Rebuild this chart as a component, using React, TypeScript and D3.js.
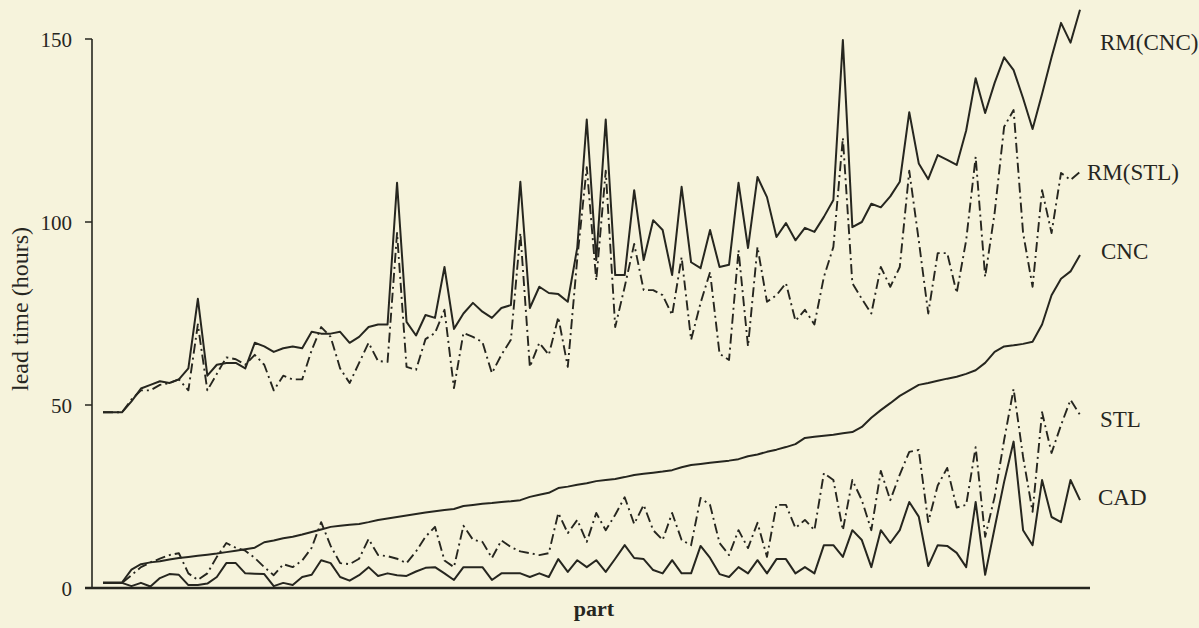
import React from "react";
import * as d3 from "d3";

const W = 1199;
const H = 628;

// part index 0..103
const rmCnc = [
  48, 48, 48, 51, 54.5, 55.5, 56.5, 56, 57, 60,
  79, 58, 61, 61.5, 61.5, 60, 67, 66, 64.5, 65.5,
  66, 65.5, 70, 69.5, 69.5, 70, 67, 68.6, 71.3, 72,
  72, 110.7, 72.7, 69, 74.6, 73.8, 87.7, 70.8, 75, 77.9,
  75.5, 73.8, 76.5, 77.3, 111, 76.5, 82.3, 80.6, 80.3, 78.2,
  93, 128, 89.6, 128, 85.5, 85.5, 108.7, 89.6, 100.5, 97.8,
  85.5, 109.6, 89, 87.4, 97.8, 87.7, 88.3, 110.7, 92.9, 112.3,
  106.8, 95.9, 99.7, 95, 98.4, 97.3, 101.4, 106, 149.7, 98.6,
  100, 105, 104, 107, 111, 130, 116, 111.7, 118.3, 117,
  115.6, 125, 139.3, 129.8, 138, 145, 141.5, 133.8, 125.4, 135,
  145, 154.4, 149, 158,
];

const rmStl = [
  48, 48, 48, 51.5, 54, 54, 55.5, 56, 57, 54,
  72, 54, 58.5, 63, 62.5, 61, 63.7, 61, 54, 58,
  57, 57, 65, 71.3, 68.6, 60, 56, 61.5, 67, 62,
  61.8, 97, 60.4, 59.6, 68, 69.7, 76, 54.6, 69.7, 68.6,
  67.2, 58.7, 63.7, 67.8, 97, 60.4, 67, 63.7, 74, 60.4,
  90, 115, 84, 114, 71.3, 82.3, 94, 81.4, 81.4, 80,
  74.6, 90.4, 67.8, 77.9, 86.3, 64, 62.3, 92.3, 66, 93.2,
  78.2, 80, 83.3, 73, 76, 72, 85, 93.2, 123, 83.3,
  79, 75, 87.7, 82.3, 87.7, 114, 95, 75, 91.5, 91.5,
  80.6, 95, 117.8, 85, 102.5, 126, 130.6, 97, 82.3, 108.7,
  97, 113.4, 111.5, 113.7,
];

const cnc = [
  1.5, 1.5, 1.5, 5, 6.5, 7, 7.3, 7.8, 8.2, 8.5,
  8.8, 9.1, 9.4, 9.8, 10.2, 10.6, 11, 12.5, 13, 13.6,
  14, 14.6, 15.3, 16, 16.7, 17, 17.3, 17.5, 18, 18.6,
  19, 19.4, 19.8, 20.2, 20.6, 21, 21.3, 21.6, 22.4, 22.7,
  23, 23.2, 23.5, 23.7, 24, 24.9, 25.5, 26, 27.3, 27.7,
  28.2, 28.6, 29.2, 29.5, 29.8, 30.3, 30.9, 31.2, 31.5, 31.8,
  32.2, 33, 33.6, 33.9, 34.2, 34.5, 34.8, 35.2, 36, 36.5,
  37.2, 37.8, 38.5, 39.3, 41, 41.3, 41.6, 41.9, 42.3, 42.6,
  44, 46.5, 48.6, 50.5, 52.5, 54, 55.5, 56, 56.6, 57.2,
  57.7, 58.5, 59.5, 61.5, 64.5, 66, 66.3, 66.7, 67.3, 72,
  80, 84.5, 86.5, 91,
];

const stl = [
  1.4, 1.4, 1.4, 3.5, 5.7, 7, 8, 9, 9.5, 4,
  2.2, 4, 8.5, 12.3, 11, 10.2, 8.2, 5.7, 3.5, 6.5,
  5.7, 7.5, 11, 18, 11.5, 6.8, 6.5, 8, 13.4, 9,
  8.7, 8, 6.8, 10, 14, 16.7, 7.5, 5.7, 17, 13.2,
  12.6, 8.2, 13, 11.2, 10, 9.5, 9, 9.5, 20.5, 15,
  18.6, 12.6, 20.5, 15.8, 20, 24.8, 17.5, 22.7, 15.8, 13.1,
  20.5, 13.1, 11.7, 24.6, 22.7, 12.3, 9, 15.8, 10.9, 17.8,
  8.5, 22.7, 22.7, 16.4, 18.6, 15.8, 31.4, 29.5, 15.8, 29.5,
  24, 15.8, 32, 24, 31, 37.2, 37.7, 18, 28, 32.8,
  22, 22.7, 38.5, 14, 24.9, 40.4, 54.4, 35.8, 20.8, 48,
  36.9, 44.5, 51.4, 47.3,
];

const cad = [
  1.4, 1.4, 1.4, 0.5, 1.4, 0.4, 2.7, 3.8, 3.6, 0.8,
  0.8, 1.2, 3, 6.8, 6.8, 4, 3.9, 3.8, 0.5, 1.4,
  0.8, 3, 3.6, 7.6, 6.8, 3, 2, 3.5, 5.7, 3.3,
  4, 3.5, 3.3, 4.5, 5.5, 5.7, 4, 2.2, 5.7, 5.7,
  5.7, 2.2, 4, 4, 4, 3, 4, 3, 7.9, 4.4,
  7.6, 5.7, 7.6, 4.4, 8, 11.7, 8.2, 7.9, 4.9, 4,
  7.6, 4, 4, 11.5, 8.2, 3.8, 3, 5.7, 4, 7.6,
  4, 7.9, 7.9, 4, 5.7, 4, 11.7, 11.7, 8.5, 15.8,
  13.1, 5.7, 15.8, 12.3, 15.8, 23.5, 19.5, 6, 11.7, 11.5,
  9.6, 5.7, 23.5, 3.6, 16.4, 29, 40, 15.8, 11.7, 29.5,
  19.4, 18, 29.5, 24,
];

const yTicks = [0, 50, 100, 150];

const seriesNames = ["RM(CNC)", "RM(STL)", "CNC", "STL", "CAD"];
const seriesData = [rmCnc, rmStl, cnc, stl, cad];
const dashed = [false, true, false, true, false];
const labelPos = [
  { x: 1100, y: 50 },
  { x: 1087, y: 180 },
  { x: 1101, y: 259 },
  { x: 1100, y: 427 },
  { x: 1098, y: 505 },
];

const ink = "#26261f";
const bg = "#f6f3dc";
const serif = "'Liberation Serif', 'DejaVu Serif', serif";

export default function App() {
  const n = rmCnc.length;
  const x = d3.scaleLinear().domain([0, n - 1]).range([103, 1080]);
  const y = d3.scaleLinear().domain([0, 150]).range([588, 39]);
  const line = d3
    .line<number>()
    .x((_, i) => x(i))
    .y((d) => y(d))
    .curve(d3.curveLinear);

  return (
    <svg
      width={W}
      height={H}
      style={{ position: "fixed", left: 0, top: 0, display: "block" }}
    >
      <rect x={0} y={0} width={W} height={H} fill={bg} />
      {/* y axis */}
      <line x1={92} x2={92} y1={y(150)} y2={y(0)} stroke={ink} strokeWidth={1.6} />
      {yTicks.map((t) => (
        <g key={t}>
          {t > 0 && (
            <line x1={85} x2={92} y1={y(t)} y2={y(t)} stroke={ink} strokeWidth={1.5} />
          )}
          <text
            x={72}
            y={y(t)}
            dy="0.36em"
            textAnchor="end"
            fontFamily={serif}
            fontSize={21}
            fill={ink}
          >
            {t}
          </text>
        </g>
      ))}
      {/* x axis */}
      <line x1={85} x2={1090} y1={y(0)} y2={y(0)} stroke={ink} strokeWidth={2.6} />
      <text
        x={594}
        y={616}
        textAnchor="middle"
        fontFamily={serif}
        fontWeight="bold"
        fontSize={22}
        fill={ink}
      >
        part
      </text>
      <text
        transform={`translate(28, 309) rotate(-90)`}
        textAnchor="middle"
        fontFamily={serif}
        fontSize={24}
        fill={ink}
      >
        lead time (hours)
      </text>
      {/* series */}
      {seriesData.map((s, k) => (
        <path
          key={seriesNames[k]}
          d={line(s) || ""}
          fill="none"
          stroke={ink}
          strokeWidth={dashed[k] ? 1.9 : 2}
          strokeDasharray={dashed[k] ? "10 4 2 4" : undefined}
          strokeLinejoin="round"
        />
      ))}
      {seriesNames.map((name, k) => (
        <text
          key={name}
          x={labelPos[k].x}
          y={labelPos[k].y}
          fontFamily={serif}
          fontSize={23}
          fill={ink}
        >
          {name}
        </text>
      ))}
    </svg>
  );
}
